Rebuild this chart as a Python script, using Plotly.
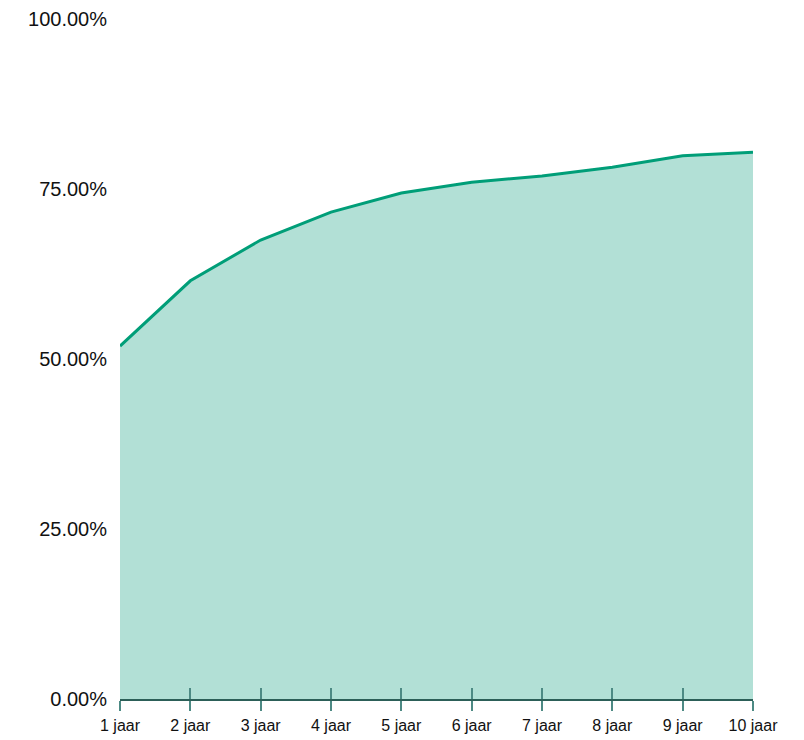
import plotly.graph_objects as go

categories = ["1 jaar", "2 jaar", "3 jaar", "4 jaar", "5 jaar", "6 jaar", "7 jaar", "8 jaar", "9 jaar", "10 jaar"]
values = [0.519, 0.615, 0.675, 0.716, 0.744, 0.760, 0.769, 0.782, 0.799, 0.804]
y_ticks = [0, 0.25, 0.5, 0.75, 1.0]

fig = go.Figure()
fig.add_trace(go.Scatter(
    x=categories, y=values, mode="lines",
    line=dict(color="#009e78", width=3),
    fill="tozeroy", fillcolor="#b2e0d6",
    hoverinfo="skip", showlegend=False,
))
# invisible trace to drive the overlaid axis (upward ticks)
fig.add_trace(go.Scatter(x=categories, y=values, xaxis="x2", mode="lines",
                         line=dict(width=0), opacity=0, hoverinfo="skip", showlegend=False))

fig.update_layout(
    width=796, height=732,
    margin=dict(l=112, r=51, t=11, b=41, autoexpand=False),
    paper_bgcolor="white", plot_bgcolor="white",
    font=dict(family="Liberation Sans, Arial, sans-serif", color="#111111"),
    xaxis=dict(
        type="category", range=[0, 9], showgrid=False, zeroline=False,
        showline=True, linecolor="#2c5f58", linewidth=2,
        ticks="outside", ticklen=10, tickwidth=2, tickcolor="#4d8a84",
        tickfont=dict(size=16), ticklabelstandoff=1, automargin=False,
    ),
    xaxis2=dict(
        type="category", range=[0, 9], overlaying="x", side="bottom",
        showgrid=False, zeroline=False, showline=False,
        ticks="inside", ticklen=11, tickwidth=2, tickcolor="#4d8a84",
        showticklabels=False, automargin=False,
    ),
    yaxis=dict(
        range=[0, 1], tickvals=y_ticks, tickformat=".2%",
        showgrid=False, zeroline=False, showline=False, ticks="",
        tickfont=dict(size=20), ticklabelstandoff=12, automargin=False,
    ),
)

fig.write_html("out.html")
